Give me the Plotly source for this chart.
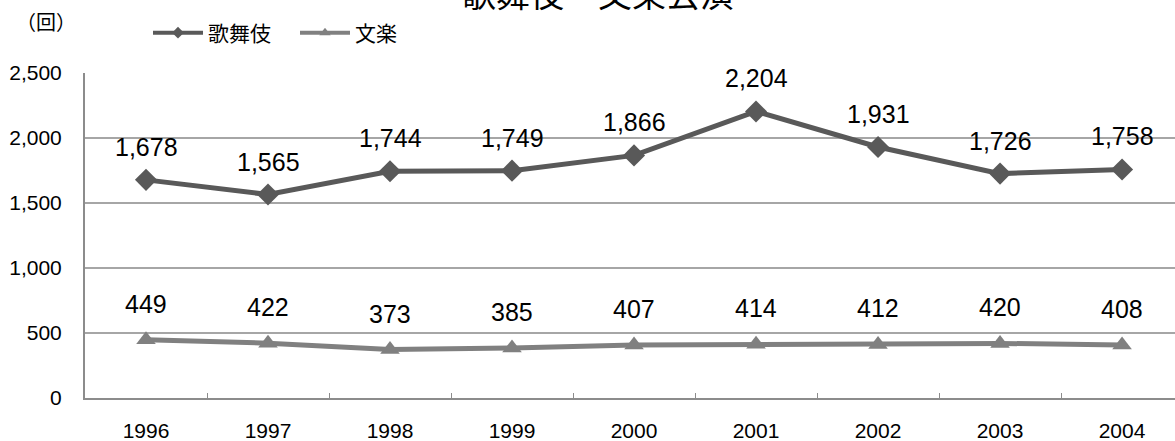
import plotly.graph_objects as go

years = ["1996", "1997", "1998", "1999", "2000", "2001", "2002", "2003", "2004"]
kabuki = [1678, 1565, 1744, 1749, 1866, 2204, 1931, 1726, 1758]
bunraku = [449, 422, 373, 385, 407, 414, 412, 420, 408]
series_names = ["歌舞伎", "文楽"]
y_ticks = [0, 500, 1000, 1500, 2000, 2500]
y_ticktext = ["0", "500", "1,000", "1,500", "2,000", "2,500"]
title_text = "歌舞伎・文楽公演"
unit_text = "（回）"

FONT = "Liberation Sans, Arial, sans-serif"
CJK = "Noto Sans CJK JP, sans-serif"
C1 = "#595959"
C2 = "#808080"

W, H = 1175, 441
ML, MT, MB, MR = 85, 73, 43, 0
PW = W - ML - MR
PH = H - MT - MB

fig = go.Figure()
fig.add_trace(go.Scatter(
    x=years, y=kabuki, name=series_names[0], mode="lines+markers",
    line=dict(color=C1, width=5), showlegend=False,
    marker=dict(symbol="diamond", size=17, color=C1),
))
fig.add_trace(go.Scatter(
    x=years, y=bunraku, name=series_names[1], mode="lines+markers",
    line=dict(color=C2, width=5), showlegend=False,
    marker=dict(symbol="triangle-up", size=17, color=C2),
))
# legend entries (smaller symbols as in the reference legend)
fig.add_trace(go.Scatter(
    x=[None], y=[None], name=series_names[0], mode="lines+markers",
    line=dict(color=C1, width=4), marker=dict(symbol="diamond", size=9, color=C1),
))
fig.add_trace(go.Scatter(
    x=[None], y=[None], name=series_names[1], mode="lines+markers",
    line=dict(color=C2, width=4), marker=dict(symbol="triangle-up", size=10, color=C2),
))

for i, v in enumerate(kabuki):
    fig.add_annotation(x=i, y=v, text=f"{v:,}", showarrow=False, yshift=33,
                       font=dict(family=FONT, size=25, color="#000"))
for i, v in enumerate(bunraku):
    fig.add_annotation(x=i, y=v, text=f"{v:,}", showarrow=False, yshift=36,
                       font=dict(family=FONT, size=25, color="#000"))

fig.add_annotation(xref="paper", yref="paper", x=(14 - ML) / PW, y=1 + (MT - 22) / PH,
                   xanchor="left", yanchor="middle", text=unit_text, showarrow=False,
                   font=dict(family=CJK, size=20, color="#000"))

# title (partly cut off at the top edge, as in the reference)
fig.add_annotation(xref="paper", yref="paper", x=(598 - ML) / PW, y=1 + (MT + 8) / PH,
                   xanchor="center", yanchor="middle", text=title_text, showarrow=False,
                   font=dict(family=CJK, size=34, color="#000"))

fig.update_layout(
    width=W, height=H,
    margin=dict(l=ML, r=MR, t=MT, b=MB, autoexpand=False),
    paper_bgcolor="white", plot_bgcolor="white",
    showlegend=True,
    legend=dict(orientation="h", x=(148 - ML) / PW, xanchor="left",
                y=1 + (MT - 33) / PH, yanchor="middle",
                font=dict(family=CJK, size=21, color="#000"),
                entrywidth=82, entrywidthmode="pixels", itemwidth=50,
                bgcolor="rgba(0,0,0,0)"),
    xaxis=dict(
        type="category", range=[-0.5, 8.434],
        showline=True, linecolor="#8c8c8c", linewidth=2,
        showgrid=False, tickson="boundaries", ticks="inside", ticklen=5,
        tickcolor="#8c8c8c", tickwidth=1,
        ticklabelstandoff=13,
        tickfont=dict(family=FONT, size=21, color="#000"),
    ),
    yaxis=dict(
        range=[0, 2500], tickvals=y_ticks, ticktext=y_ticktext,
        showline=True, linecolor="#8c8c8c", linewidth=2,
        showgrid=True, gridcolor="#a6a6a6", gridwidth=1.5,
        zeroline=False, ticks="", ticklabelstandoff=17,
        tickfont=dict(family=FONT, size=21, color="#000"),
    ),
)

fig.write_html(
    "out.html",
    config={"displayModeBar": False},
    post_script="document.body.style.margin='0';document.body.style.overflow='hidden';",
)
